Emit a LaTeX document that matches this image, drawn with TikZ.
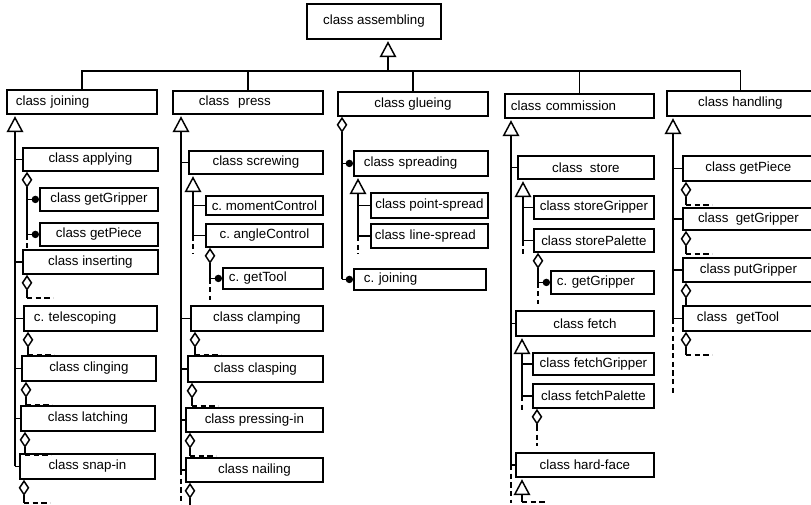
\documentclass[tikz,border=0pt]{standalone}
\usepackage{fontspec}
\setmainfont{Liberation Sans}
\usetikzlibrary{arrows.meta,calc}

% class box given by its corners (x1,y1) (x2,y2), text centred
\newcommand\klass[6]{%
  \pgfmathsetmacro\bw{(#4-#2)*0.75}\pgfmathsetmacro\bh{(#5-#3)*0.75}%
  \node[cls, minimum width=\bw pt, minimum height=\bh pt] (#1) at (#2,#3) {#6};}
% class box with left-aligned text, #6 = indent
\newcommand\klassl[7]{%
  \pgfmathsetmacro\bw{(#4-#2-2*#6)*0.75}\pgfmathsetmacro\bh{(#5-#3)*0.75}%
  \pgfmathsetmacro\bi{#6*0.75}%
  \node[cls, text width=\bw pt, inner xsep=\bi pt, minimum height=\bh pt, align=left] (#1) at (#2,#3) {#7};}
% aggregation below a box, ending in an elided (dashed) part
\newcommand\tail[2][5]{%
  \draw[agg] ($(#2.south west)+(#1,23)$) coordinate (tl) -- ($(#2.south west)+(#1,0)$);
  \draw[elide] (tl) -- ++(26,0);}

\begin{document}
\frenchspacing
\begin{tikzpicture}[x=0.75pt,y=-0.75pt,
  cls/.style={draw, line width=1.4pt, inner xsep=0pt, inner ysep=0pt,
    anchor=north west, font=\fontsize{10}{12}\selectfont},
  conn/.style={line width=1.1pt},
  gen/.style={conn, shorten >=1pt, -{Triangle[open, length=12pt, width=12.5pt]}},
  agg/.style={conn, -{Diamond[open, length=12pt, width=8pt]}},
  comp/.style={conn, -{Circle[length=5.5pt]}},
  elide/.style={conn, dash pattern=on 4pt off 2.5pt}]
\useasboundingbox (0,0) rectangle (811,505);

% trunk positions
\coordinate (c1) at (15,0);  \coordinate (a1) at (27,0);
\coordinate (c2) at (181,0); \coordinate (s2) at (193,0); \coordinate (a2) at (210,0);
\coordinate (c3) at (342,0); \coordinate (s3) at (358,0);
\coordinate (c4) at (511,0); \coordinate (s4) at (523,0); \coordinate (a4) at (538,0);
\coordinate (t4) at (522,0); \coordinate (b4) at (537,0);
\coordinate (c5) at (673,0);
\coordinate (bus) at (388,71);

% root
\klass{asm}{306}{3}{440}{38}{class assembling}
\draw[gen] (bus) -- (asm.south -| bus);

% first level
\klassl{joining}{6}{89}{156}{113}{9}{class joining}
\klassl{press}{172}{90}{322}{113}{26}{class~~press}
\klass{glueing}{337}{91}{487}{115}{class glueing}
\klassl{commission}{504}{93}{653}{117}{6}{class commission}
\klass{handling}{666}{90}{813}{115}{class handling}

\draw[conn] (joining.north) -- (joining.north |- bus) -- (handling.north |- bus) -- (handling.north);
\foreach \n in {press,glueing,commission} \draw[conn] (\n.north) -- (\n.north |- bus);

% joining
\klass{applying}{22}{147}{157}{170}{class applying}
\klass{getGripperA}{39}{187}{157}{210}{class getGripper}
\klass{getPieceA}{39}{222}{157}{245}{class getPiece}
\klass{inserting}{22}{249}{157}{273}{class inserting}
\klassl{telescoping}{23}{305}{156}{330}{10}{c. telescoping}
\klass{clinging}{21}{355}{155}{380}{class clinging}
\klass{latching}{20}{405}{154}{430}{class latching}
\klass{snapin}{19}{453}{154}{478}{class snap-in}

\draw[gen] (c1 |- snapin.west) -- (c1 |- joining.south);
\foreach \n in {applying,inserting,telescoping,clinging,latching,snapin}
  \draw[conn] (c1 |- \n.west) -- (\n.west);
\draw[agg] (a1 |- getPieceA.west) -- (a1 |- applying.south);
\draw[elide] (a1 |- getPieceA.west) -- (a1 |- inserting.north);
\draw[comp] (a1 |- getGripperA.west) -- (getGripperA.west);
\draw[comp] (a1 |- getPieceA.west) -- (getPieceA.west);
\foreach \n in {inserting,telescoping,clinging,latching,snapin} {\tail{\n}}

% press
\klass{screwing}{188}{150}{322}{173}{class screwing}
\klass{momentControl}{205}{195}{322}{214}{c. momentControl}
\klass{angleControl}{205}{223}{322}{246}{c. angleControl}
\klassl{getTool}{222}{267}{322}{288}{6}{c. getTool}
\klass{clamping}{190}{305}{322}{330}{class clamping}
\klass{clasping}{187}{355}{322}{381}{class clasping}
\klass{pressingin}{185}{407}{322}{431}{class pressing-in}
\klass{nailing}{185}{457}{322}{481}{class nailing}

\draw[gen] (c2 |- nailing.west) -- (c2 |- press.south);
\draw[elide] (c2 |- nailing.west) -- ++(0,36);
\foreach \n in {screwing,clamping,clasping,pressingin,nailing}
  \draw[conn] (c2 |- \n.west) -- (\n.west);
\draw[gen] (s2 |- angleControl.west) -- (s2 |- screwing.south);
\foreach \n in {momentControl,angleControl} \draw[conn] (s2 |- \n.west) -- (\n.west);
\draw[elide] (s2 |- angleControl.west) -- ++(0,18);
\draw[agg] (a2 |- getTool.west) -- (a2 |- angleControl.south);
\draw[comp] (a2 |- getTool.west) -- (getTool.west);
\draw[elide] (a2 |- getTool.west) -- ++(0,22);
\foreach \n in {clamping,clasping,pressingin,nailing} {\tail{\n}}

% glueing
\klassl{spreading}{353}{150}{487}{175}{10}{class spreading}
\klass{pointspread}{370}{192}{487}{217}{class point-spread}
\klassl{linespread}{370}{223}{487}{247}{4}{class line-spread}
\klassl{cjoining}{353}{268}{485}{289}{10}{c. joining}

\draw[agg] (c3 |- cjoining.west) -- (c3 |- glueing.south);
\draw[comp] (c3 |- spreading.west) -- (spreading.west);
\draw[comp] (c3 |- cjoining.west) -- (cjoining.west);
\draw[gen] (s3 |- linespread.west) -- (s3 |- spreading.south);
\foreach \n in {pointspread,linespread} \draw[conn] (s3 |- \n.west) -- (\n.west);
\draw[elide] (s3 |- linespread.west) -- ++(0,18);

% commission
\klass{store}{517}{155}{653}{178}{class~~store}
\klass{storeGripper}{533}{195}{653}{218}{class storeGripper}
\klass{storePalette}{533}{228}{653}{251}{class storePalette}
\klassl{getGripperC}{550}{270}{653}{293}{6}{c. getGripper}
\klass{fetch}{515}{310}{653}{335}{class fetch}
\klass{fetchGripper}{532}{352}{653}{374}{class fetchGripper}
\klass{fetchPalette}{532}{383}{653}{407}{class fetchPalette}
\klass{hardface}{515}{452}{653}{476}{class hard-face}

\draw[gen] (c4 |- hardface.west) -- (c4 |- commission.south);
\draw[elide] (c4 |- hardface.west) -- ++(0,38);
\foreach \n in {store,fetch,hardface} \draw[conn] (c4 |- \n.west) -- (\n.west);
\draw[gen] (s4 |- storePalette.west) -- (s4 |- store.south);
\foreach \n in {storeGripper,storePalette} \draw[conn] (s4 |- \n.west) -- (\n.west);
\draw[elide] (s4 |- storePalette.west) -- ++(0,14);
\draw[agg] (a4 |- getGripperC.west) -- (a4 |- storePalette.south);
\draw[comp] (a4 |- getGripperC.west) -- (getGripperC.west);
\draw[elide] (a4 |- getGripperC.west) -- ++(0,22);
\draw[gen] (t4 |- fetchPalette.west) -- (t4 |- fetch.south);
\foreach \n in {fetchGripper,fetchPalette} \draw[conn] (t4 |- \n.west) -- (\n.west);
\draw[elide] (t4 |- fetchPalette.west) -- ++(0,16);
\draw[agg] ($(b4 |- fetchPalette.south)+(0,17)$) coordinate (fp) -- (b4 |- fetchPalette.south);
\draw[elide] (fp) -- ++(0,20);
\draw[gen] ($(t4 |- hardface.south)+(0,24)$) coordinate (hf) -- (t4 |- hardface.south);
\draw[elide] (hf) -- ++(24,0);

% handling
\klass{getPieceH}{682}{155}{813}{180}{class getPiece}
\klass{getGripperH}{682}{207}{813}{229}{class~~getGripper}
\klass{putGripper}{682}{257}{813}{281}{class putGripper}
\klassl{getToolH}{682}{305}{813}{330}{14}{class~~getTool}

\draw[gen] (c5 |- getToolH.west) -- (c5 |- handling.south);
\draw[elide] (c5 |- getToolH.west) -- ++(0,76);
\foreach \n in {getPieceH,getGripperH,putGripper,getToolH}
  \draw[conn] (c5 |- \n.west) -- (\n.west);
\foreach \n in {getPieceH,getGripperH,putGripper,getToolH} {\tail[4]{\n}}
\end{tikzpicture}
\end{document}
